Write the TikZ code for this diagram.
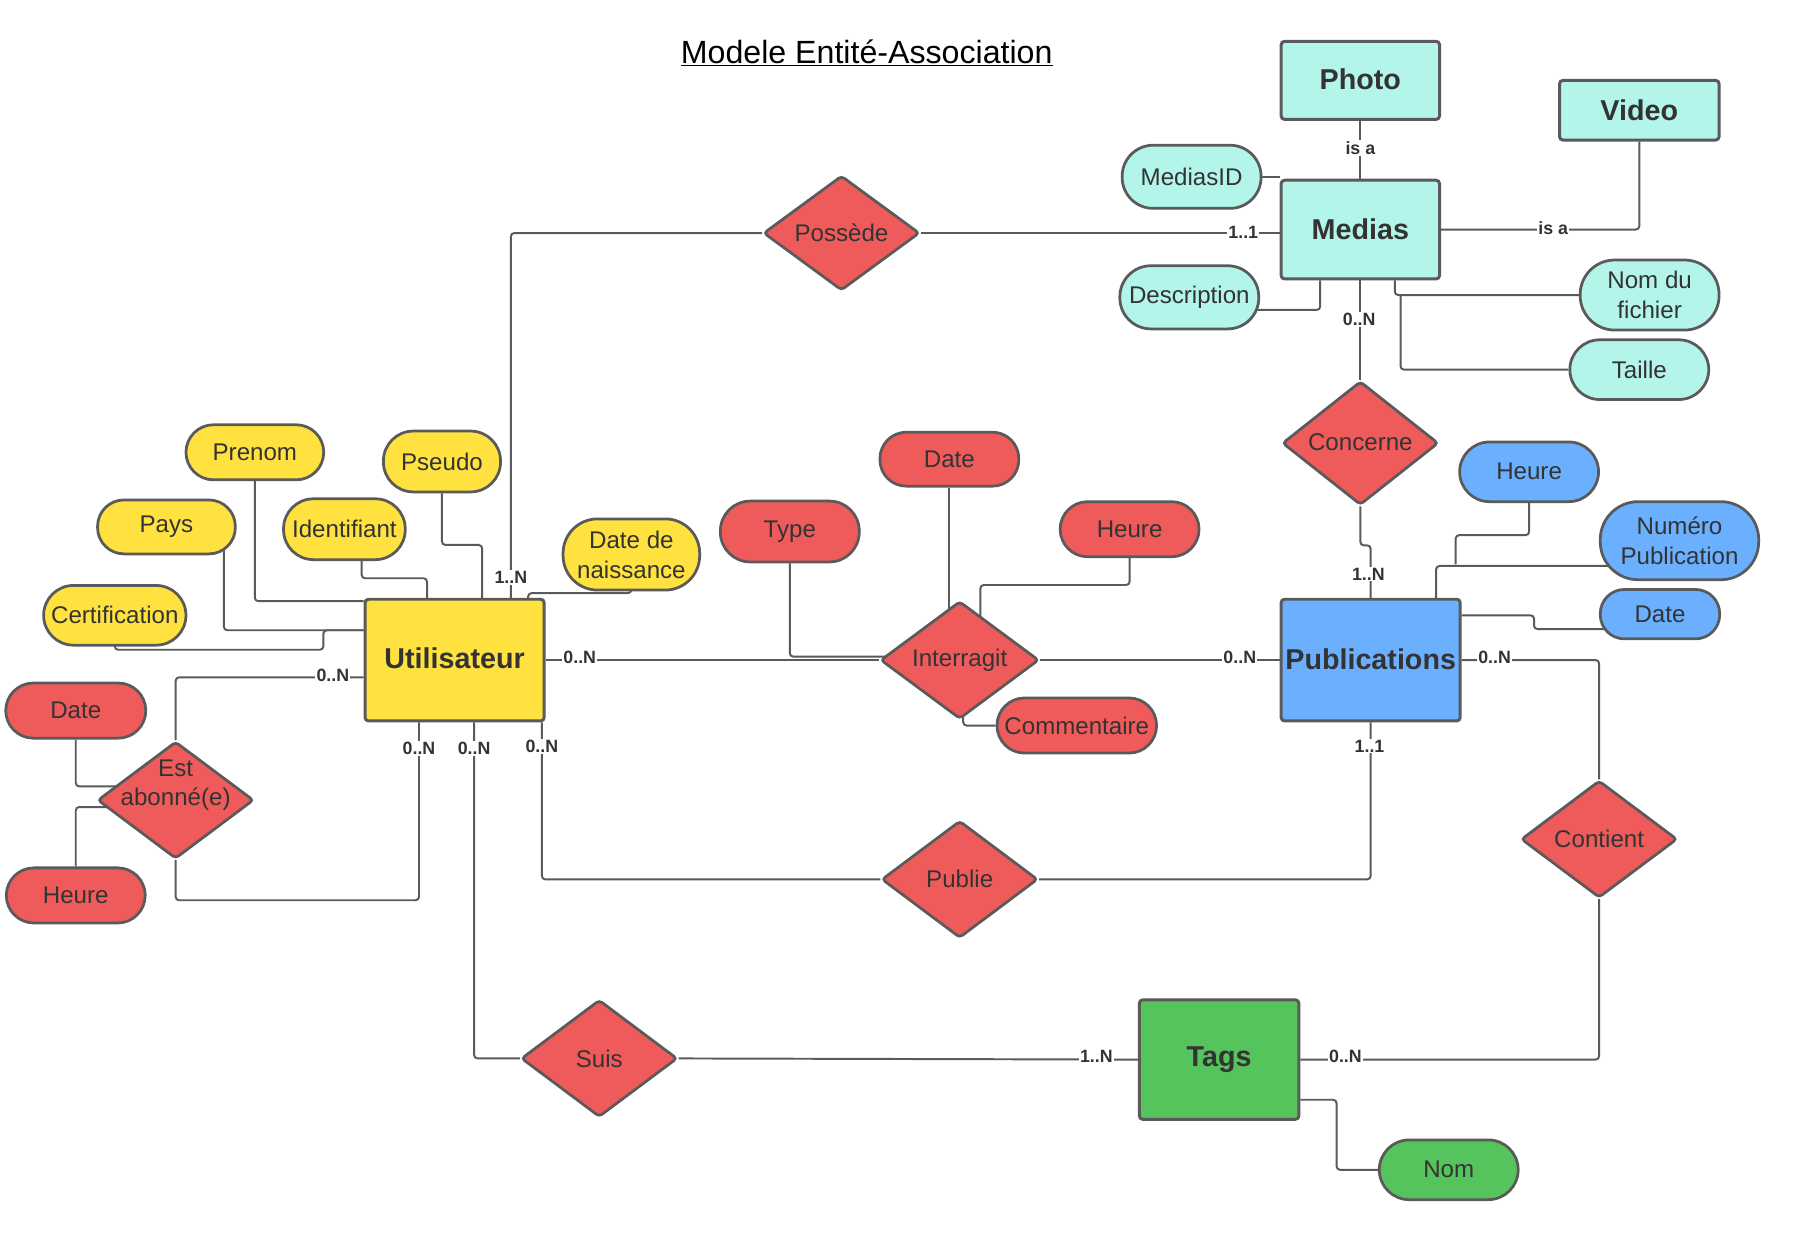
\documentclass[tikz,border=0pt]{standalone}
\usepackage{fontspec}
\setmainfont{Liberation Sans}
\usetikzlibrary{shapes.geometric,calc}
\pgfdeclarelayer{bg}
\pgfsetlayers{bg,main}
\definecolor{lc}{HTML}{5A5A5A}
\definecolor{txt}{HTML}{333333}
\definecolor{cyanc}{HTML}{B3F4EB}
\definecolor{yel}{HTML}{FFE23F}
\definecolor{redc}{HTML}{EF5B5B}
\definecolor{blu}{HTML}{6AB0FF}
\definecolor{grn}{HTML}{55C45C}
\tikzset{
  ent/.style={draw=lc, line width=2.6pt, rounded corners=3pt, inner sep=0pt, text=txt,
    font=\fontsize{25}{30}\selectfont\bfseries},
  attr/.style={draw=lc, line width=2.4pt, inner sep=0pt, text=txt, align=center,
    font=\fontsize{21}{26}\selectfont},
  rel/.style={diamond, draw=lc, line width=2.4pt, fill=redc, inner sep=0pt, text=txt,
    align=center, rounded corners=3pt, font=\fontsize{21}{26}\selectfont},
  reltext/.style={inner sep=0pt, text=txt, align=center, font=\fontsize{21}{26}\selectfont},
  conn/.style={draw=lc, line width=1.7pt, rounded corners=3pt},
  card/.style={fill=white, inner sep=1pt, text=txt, font=\fontsize{15.5}{17}\selectfont\bfseries}
}
\begin{document}
\begin{tikzpicture}[x=1pt,y=-1pt]
\useasboundingbox (0,0) rectangle (1568,1080);
\begin{pgfonlayer}{bg}
\fill[white] (0,0) rectangle (1568,1080);
\end{pgfonlayer}

\node[font=\fontsize{28}{32}\selectfont, text=black] (title) at (755,46) {\underline{Modele Entité-Association}};

% entities
\node[ent, fill=cyanc, minimum width=138pt, minimum height=68pt] (photo) at (1185,70) {\raisebox{3pt}{Photo}};
\node[ent, fill=cyanc, minimum width=139pt, minimum height=52pt] (video) at (1428,96) {Video};
\node[ent, fill=cyanc, minimum width=138pt, minimum height=86pt] (medias) at (1185,200) {Medias};
\node[ent, fill=yel, minimum width=156pt, minimum height=106pt] (user) at (396,575) {\raisebox{3pt}{Utilisateur}};
\node[ent, fill=blu, minimum width=156pt, minimum height=106pt] (pub) at (1194,575) {\raisebox{2pt}{Publications}};
\node[ent, fill=grn, minimum width=139pt, minimum height=104pt] (tags) at (1062,923) {\raisebox{3pt}{Tags}};

% attributes
\node[attr, fill=cyanc, minimum width=121pt, minimum height=55pt, rounded corners=27pt] (mid) at (1038,154) {MediasID};
\node[attr, fill=cyanc, minimum width=121pt, minimum height=55pt, rounded corners=27pt] (desc) at (1036,259) {Description};
\node[attr, fill=cyanc, minimum width=121pt, minimum height=61pt, rounded corners=30pt] (nomf) at (1437,257) {Nom du\\fichier};
\node[attr, fill=cyanc, minimum width=121pt, minimum height=52pt, rounded corners=26pt] (taille) at (1428,322) {Taille};

\node[attr, fill=yel, minimum width=120pt, minimum height=48pt, rounded corners=24pt] (prenom) at (222,394) {Prenom};
\node[attr, fill=yel, minimum width=102pt, minimum height=53pt, rounded corners=26pt] (pseudo) at (385,402) {Pseudo};
\node[attr, fill=yel, minimum width=120pt, minimum height=47pt, rounded corners=23pt] (pays) at (145,459) {Pays};
\node[attr, fill=yel, minimum width=106pt, minimum height=53pt, rounded corners=26pt] (ident) at (300,461) {Identifiant};
\node[attr, fill=yel, minimum width=124pt, minimum height=52pt, rounded corners=26pt] (certif) at (100,536) {Certification};
\node[attr, fill=yel, minimum width=119pt, minimum height=62pt, rounded corners=30pt] (ddn) at (550,483) {Date de\\naissance};

\node[attr, fill=redc, minimum width=122pt, minimum height=48pt, rounded corners=24pt] (adate) at (66,619) {Date};
\node[attr, fill=redc, minimum width=121pt, minimum height=48pt, rounded corners=24pt] (aheure) at (66,780) {Heure};
\node[attr, fill=redc, minimum width=121pt, minimum height=47pt, rounded corners=23pt] (idate) at (827,400) {Date};
\node[attr, fill=redc, minimum width=121pt, minimum height=53pt, rounded corners=26pt] (itype) at (688,463) {Type};
\node[attr, fill=redc, minimum width=121pt, minimum height=48pt, rounded corners=24pt] (iheure) at (984,461) {Heure};
\node[attr, fill=redc, minimum width=139pt, minimum height=48pt, rounded corners=24pt] (icom) at (938,632) {Commentaire};

\node[attr, fill=blu, minimum width=121pt, minimum height=52pt, rounded corners=26pt] (pheure) at (1332,411) {Heure};
\node[attr, fill=blu, minimum width=138pt, minimum height=68pt, rounded corners=33pt] (pnum) at (1463,471) {Numéro\\Publication};
\node[attr, fill=blu, minimum width=104pt, minimum height=43pt, rounded corners=21pt] (pdate) at (1446,535) {Date};

\node[attr, fill=grn, minimum width=121pt, minimum height=52pt, rounded corners=26pt] (nom) at (1262,1019) {Nom};

% relationships
\node[rel, minimum width=136pt, minimum height=100pt] (posse) at (733,203) {Possède};
\node[rel, minimum width=136pt, minimum height=102pt] (conc) at (1185,386) {\raisebox{2pt}{Concerne}};
\node[rel, minimum width=138pt, minimum height=102pt] (inter) at (836,575) {Interragit};
\node[rel, minimum width=136pt, minimum height=102pt] (abon) at (153,697) {};
\node[reltext] (abontxt) at (153,684) {Est\\abonné(e)};
\node[rel, minimum width=136pt, minimum height=102pt] (publie) at (836,766) {Publie};
\node[rel, minimum width=136pt, minimum height=102pt] (cont) at (1393,731) {Contient};
\node[rel, minimum width=136pt, minimum height=102pt] (suis) at (522,922) {Suis};

\begin{pgfonlayer}{bg}
\coordinate (mt) at ($(medias.south)+(35,0)$);
% Possede
\draw[conn] (posse.west) -| ($(user.north)+(49,0)$);
\draw[conn] (posse.east) -- (posse.east -| medias.west);
% Medias
\draw[conn] (photo.south) -- (medias.north);
\draw[conn] (medias.east) -| (video.south);
\draw[conn] (mid.center) -- (mid.center -| medias.west);
\draw[conn] ($(desc.center)+(0,11)$) -| ($(medias.south)+(-35,0)$);
\draw[conn] ($(medias.south)+(30,0)$) |- (nomf.west);
\draw[conn] (mt |- nomf.west) |- (taille.west);
\draw[conn] (medias.south) -- (conc.north);
\draw[conn] (conc.south) -- ++(0,34) -| (pub.north);
% Publications attributes
\draw[conn] ($(pnum.center)+(0,22)$) -| ($(pub.north)+(57,0)$);
\draw[conn] (pheure.south) -- ++(0,28) -| ($(pub.north)+(74,-29)$);
\draw[conn] ($(pdate.center)+(0,13)$) -| ($(pub.east)+(63,-39)$) -- ($(pub.east)+(0,-39)$);
% Contient / Tags
\draw[conn] (pub.east) -| (cont.north);
\draw[conn] (cont.south) |- (tags.east);
\draw[conn] ($(tags.east)+(0,35)$) -| ($(nom.west)+(-36,0)$) -- (nom.west);
\draw[conn] (suis.east) -- (tags.west);
% Utilisateur links
\draw[conn] ($(user.south)+(17,0)$) |- (suis.west);
\draw[conn] ($(user.south)+(76,0)$) |- (publie.west);
\draw[conn] (publie.east) -| (pub.south);
\draw[conn] ($(user.south)+(-31,0)$) |- ($(abon.south)+(0,35)$) -- (abon.south);
\draw[conn] ($(user.west)+(0,15)$) -| (abon.north);
\draw[conn] (adate.south) |- ($(abon.center)+(-40,-12)$);
\draw[conn] (aheure.north) |- ($(abon.center)+(-40,6)$);
% Utilisateur attributes
\draw[conn] (prenom.south) |- ($(user.north west)+(0,3)$);
\draw[conn] ($(pays.center)+(50,0)$) |- ($(user.west)+(0,-26)$);
\draw[conn] (certif.center) |- ($(user.west)+(-35,-9)$) |- ($(user.west)+(0,-26)$);
\draw[conn] ($(ident.south)+(15,0)$) |- ($(user.north)+(-24,-17)$) -- ($(user.north)+(-24,0)$);
\draw[conn] (pseudo.south) |- ($(user.north)+(24,-46)$) -- ($(user.north)+(24,0)$);
\draw[conn] (ddn.south) |- ($(user.north)+(64,-4)$) -- ($(user.north)+(64,0)$);
% Interragit
\draw[conn] (user.east) -- (inter.west);
\draw[conn] (inter.east) -- (pub.west);
\draw[conn] (itype.south) |- ($(inter.west)+(10,-3)$);
\draw[conn] (idate.south) -- (idate.south |- inter.center);
\draw[conn] (iheure.south) |- ($(inter.north)+(18,-13)$) -- ($(inter.center)+(18,0)$);
\draw[conn] (icom.west) -| ($(inter.center)+(3,0)$);
\end{pgfonlayer}

% cardinality labels
\node[card] (l1) at (445,503) {1..N};
\node[card] (l2) at (1083,202) {1..1};
\node[card] (l3) at (1185,129) {is a};
\node[card] (l4) at (1353,199) {is a};
\node[card] (l5) at (1184,278) {0..N};
\node[card] (l6) at (1192,500) {1..N};
\node[card] (l7) at (1302,573) {0..N};
\node[card] (l8) at (1172,920) {0..N};
\node[card] (l9) at (955,920) {1..N};
\node[card] (l10) at (413,652) {0..N};
\node[card] (l11) at (472,650) {0..N};
\node[card] (l12) at (1193,650) {1..1};
\node[card] (l13) at (365,652) {0..N};
\node[card] (l14) at (290,588) {0..N};
\node[card] (l15) at (505,573) {0..N};
\node[card] (l16) at (1080,573) {0..N};
\end{tikzpicture}
\end{document}
